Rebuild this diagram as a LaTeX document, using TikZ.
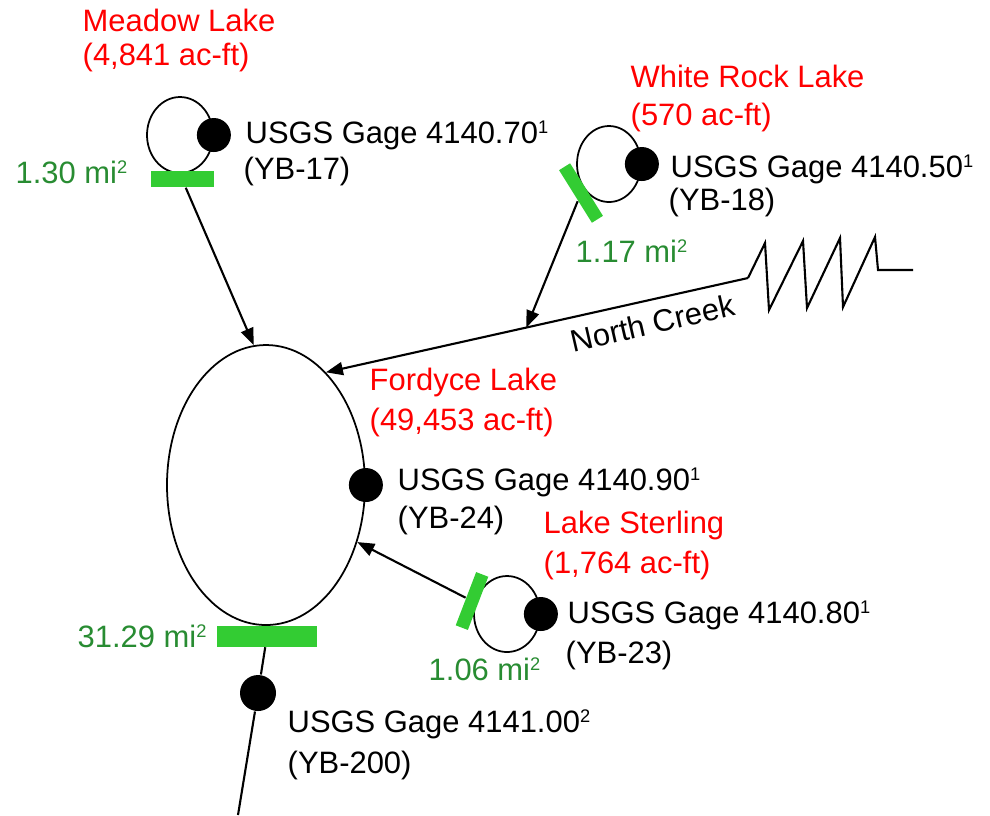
\documentclass[tikz,border=0pt]{standalone}
\usepackage{fontspec}
\setmainfont{Liberation Sans}
\usetikzlibrary{shapes.geometric,arrows.meta}
\definecolor{lakered}{RGB}{255,0,0}
\definecolor{areagreen}{RGB}{40,140,50}
\definecolor{barfill}{RGB}{51,204,51}
\newcommand{\supnote}[1]{\raisebox{2.6pt}{\fontsize{5.2}{5.2}\selectfont #1}}
\tikzset{
	lake/.style={draw,ellipse,line width=0.5pt,inner sep=0pt},
	gage/.style={circle,fill=black,minimum size=3.4mm,inner sep=0pt},
	areabar/.style={fill=barfill,inner sep=0pt},
	lakename/.style={anchor=base west,inner sep=0pt,text=lakered},
	sqmi/.style={anchor=base west,inner sep=0pt,text=areagreen},
	txt/.style={anchor=base west,inner sep=0pt},
	flow/.style={line width=0.6pt,-{Triangle[length=1.7mm,width=1.3mm]}}
}
\begin{document}
\begin{tikzpicture}[x=0.1mm,y=-0.1mm,font=\fontsize{8.8}{10.6}\selectfont]
			\useasboundingbox (0,0) rectangle (990,815);
			% Meadow Lake
			\node[lake,minimum width=6.6mm,minimum height=7.6mm] (meadow) at (180,135) {};
			\node[gage] (g17) at (meadow.east) {};
			\node[areabar,minimum width=6.3mm,minimum height=1.6mm] (a17) at (182,179) {};
			\node[lakename] (meadowname) at (82,31) {Meadow Lake};
			\node[lakename] (meadowvol) at (82,65) {(4,841 ac-ft)};
			\node[txt] (g17a) at (245,143) {USGS Gage 4140.70\supnote{1}};
			\node[txt] (g17b) at (243,179) {(YB-17)};
			\node[sqmi] (a17txt) at (15,183) {1.30 mi\supnote{2}};
			% White Rock Lake
			\node[lake,minimum width=6.4mm,minimum height=7.6mm] (whiterock) at (609,164) {};
			\node[gage] (g18) at (whiterock.east) {};
			\node[areabar,minimum width=6.2mm,minimum height=1.3mm,rotate=-58] (a18) at (581,193) {};
			\node[lakename] (wrname) at (630,87) {White Rock Lake};
			\node[lakename] (wrvol) at (630,125) {(570 ac-ft)};
			\node[txt] (g18a) at (670,177) {USGS Gage 4140.50\supnote{1}};
			\node[txt] (g18b) at (668,210) {(YB-18)};
			\node[sqmi] (a18txt) at (575,262) {1.17 mi\supnote{2}};
			% Fordyce Lake
			\node[lake,minimum width=19.8mm,minimum height=28mm] (fordyce) at (266,485) {};
			\node[gage] (g24) at (fordyce.east) {};
			\node[areabar,minimum width=10mm,minimum height=2.1mm] (a24) at (267,636) {};
			\node[lakename] (fdname) at (369,390) {Fordyce Lake};
			\node[lakename] (fdvol) at (369,430) {(49,453 ac-ft)};
			\node[txt] (g24a) at (397,490) {USGS Gage 4140.90\supnote{1}};
			\node[txt] (g24b) at (397,528) {(YB-24)};
			\node[sqmi] (a24txt) at (77,647) {31.29 mi\supnote{2}};
			% Lake Sterling
			\node[lake,minimum width=6.6mm,minimum height=7.6mm] (sterling) at (507,614) {};
			\node[gage] (g23) at (sterling.east) {};
			\node[areabar,minimum width=5.7mm,minimum height=1.3mm,rotate=69] (a23) at (472,601) {};
			\node[lakename] (lsname) at (543,533) {Lake Sterling};
			\node[lakename] (lsvol) at (543,573) {(1,764 ac-ft)};
			\node[txt] (g23a) at (567,623) {USGS Gage 4140.80\supnote{1}};
			\node[txt] (g23b) at (565,663) {(YB-23)};
			\node[sqmi] (a23txt) at (428,680) {1.06 mi\supnote{2}};
			% outlet gage
			\node[gage,minimum size=3.6mm] (g200) at (258,693) {};
			\node[txt] (g200a) at (287,732) {USGS Gage 4141.00\supnote{2}};
			\node[txt] (g200b) at (287,773) {(YB-200)};
			\coordinate (outlet) at (238,815);
			% North Creek
			\coordinate (creek) at (748,278);
			\draw[line width=0.6pt] (creek) -- (765,243) -- (769,310) -- (803,241) -- (807,308)
				-- (840,238) -- (843,307) -- (875,237) -- (878,270) -- (913,270);
			\draw[flow] (creek) -- coordinate[pos=0.525] (join) (fordyce.62);
			\node[rotate=13,anchor=base,inner sep=0pt] (nc) at (655,334) {North Creek};
			% connectors
			\draw[flow] (a17) -- (fordyce.95);
			\draw[flow] (a18) -- (join);
			\draw[flow] (a23) -- (fordyce.-32);
			\draw[line width=0.6pt] (a24) -- (g200) -- (outlet);
		\end{tikzpicture}
\end{document}
